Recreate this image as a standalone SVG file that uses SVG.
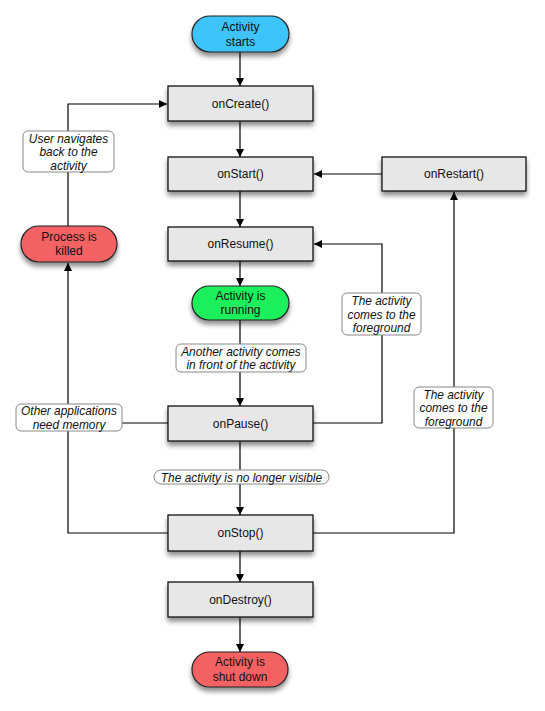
<svg xmlns="http://www.w3.org/2000/svg" width="545" height="711" viewBox="0 0 545 711">
<defs>
<marker id="arr" viewBox="0 0 10 10" refX="10" refY="5" markerWidth="8" markerHeight="8" markerUnits="userSpaceOnUse" orient="auto">
<path d="M0,0 L10,5 L0,10 z" fill="#000"/>
</marker>
<filter id="sh" x="-20%" y="-30%" width="140%" height="180%">
<feGaussianBlur in="SourceAlpha" stdDeviation="2.5"/>
<feOffset dx="0" dy="4" result="b"/>
<feComponentTransfer><feFuncA type="linear" slope="0.45"/></feComponentTransfer>
<feMerge><feMergeNode/><feMergeNode in="SourceGraphic"/></feMerge>
</filter>
</defs>
<style>
.box{fill:#e8e7e8;stroke:#111;stroke-width:1.3}
.pill{stroke:#222;stroke-width:1.2}
.lab{fill:#fff;stroke:#888;stroke-width:1}
.t{font-family:"Liberation Sans",Arial,sans-serif;font-size:12px;fill:#111;text-anchor:middle}
.i{font-family:"Liberation Sans",Arial,sans-serif;font-size:11.9px;font-style:italic;fill:#111;text-anchor:middle}
.c{fill:none;stroke:#000;stroke-width:1.2}
</style>
<rect width="545" height="711" fill="#fff"/>
<g id="connectors">
<path class="c" d="M240,52 V86" marker-end="url(#arr)"/>
<path class="c" d="M240,121 V157" marker-end="url(#arr)"/>
<path class="c" d="M240,191 V227" marker-end="url(#arr)"/>
<path class="c" d="M240,261 V286" marker-end="url(#arr)"/>
<path class="c" d="M240,320 V406" marker-end="url(#arr)"/>
<path class="c" d="M240,441 V515" marker-end="url(#arr)"/>
<path class="c" d="M240,551 V582" marker-end="url(#arr)"/>
<path class="c" d="M240,617 V652" marker-end="url(#arr)"/>
<path class="c" d="M382,174 H314" marker-end="url(#arr)"/>
<path class="c" d="M313,423 H382 V244 H314" marker-end="url(#arr)"/>
<path class="c" d="M313,533 H454 V192" marker-end="url(#arr)"/>
<path class="c" d="M168,533 H68 V263" marker-end="url(#arr)"/>
<path class="c" d="M168,423 H68"/>
<path class="c" d="M68,226 V104 H167" marker-end="url(#arr)"/>
</g>
<g id="start"><rect class="pill" x="192" y="16" width="97" height="36" rx="18" fill="#3ec5fb" filter="url(#sh)"/><text class="t" x="240.5" y="30.5">Activity</text><text class="t" x="240.5" y="45.5">starts</text></g>
<g id="onCreate"><rect class="box" x="168" y="86" width="145" height="35" filter="url(#sh)"/><text class="t" x="240.5" y="107.5">onCreate()</text></g>
<g id="onStart"><rect class="box" x="168" y="157" width="145" height="34" filter="url(#sh)"/><text class="t" x="240.5" y="178">onStart()</text></g>
<g id="onRestart"><rect class="box" x="382" y="157" width="144" height="34" filter="url(#sh)"/><text class="t" x="454" y="178">onRestart()</text></g>
<g id="onResume"><rect class="box" x="168" y="227" width="145" height="34" filter="url(#sh)"/><text class="t" x="240.5" y="248">onResume()</text></g>
<g id="running"><rect class="pill" x="192" y="286" width="97" height="34" rx="17" fill="#1fef5c" filter="url(#sh)"/><text class="t" x="240.5" y="299.5">Activity is</text><text class="t" x="240.5" y="314">running</text></g>
<g id="onPause"><rect class="box" x="168" y="406" width="145" height="35" filter="url(#sh)"/><text class="t" x="240.5" y="427.5">onPause()</text></g>
<g id="onStop"><rect class="box" x="168" y="515" width="145" height="36" filter="url(#sh)"/><text class="t" x="240.5" y="537">onStop()</text></g>
<g id="onDestroy"><rect class="box" x="168" y="582" width="145" height="35" filter="url(#sh)"/><text class="t" x="240.5" y="603.5">onDestroy()</text></g>
<g id="shutdown"><rect class="pill" x="192" y="652" width="96" height="35" rx="17.5" fill="#f36262" filter="url(#sh)"/><text class="t" x="240" y="666">Activity is</text><text class="t" x="240" y="680.5">shut down</text></g>
<g id="killed"><rect class="pill" x="21" y="226" width="96" height="36" rx="18" fill="#f36262" filter="url(#sh)"/><text class="t" x="69" y="240.5">Process is</text><text class="t" x="69" y="255">killed</text></g>
<g id="lbl-navigate"><rect class="lab" x="23" y="131" width="91" height="41" rx="5"/><text class="i" x="68.5" y="142.5">User navigates</text><text class="i" x="68.5" y="156">back to the</text><text class="i" x="68.5" y="169.5">activity</text></g>
<g id="lbl-fg1"><rect class="lab" x="342" y="293" width="79" height="42" rx="5"/><text class="i" x="381.5" y="305">The activity</text><text class="i" x="381.5" y="318.5">comes to the</text><text class="i" x="381.5" y="332">foreground</text></g>
<g id="lbl-fg2"><rect class="lab" x="414" y="387" width="79" height="41" rx="5"/><text class="i" x="453.5" y="398.5">The activity</text><text class="i" x="453.5" y="412">comes to the</text><text class="i" x="453.5" y="425.5">foreground</text></g>
<g id="lbl-another"><rect class="lab" x="176" y="344" width="130" height="28" rx="5"/><text class="i" x="241" y="355.5">Another activity comes</text><text class="i" x="241" y="369">in front of the activity</text></g>
<g id="lbl-memory"><rect class="lab" x="16" y="404" width="106" height="27" rx="5"/><text class="i" x="69" y="415">Other applications</text><text class="i" x="69" y="428.5">need memory</text></g>
<g id="lbl-visible"><rect class="lab" x="154" y="470" width="175" height="14" rx="7"/><text class="i" x="241.5" y="481.5">The activity is no longer visible</text></g>
</svg>
